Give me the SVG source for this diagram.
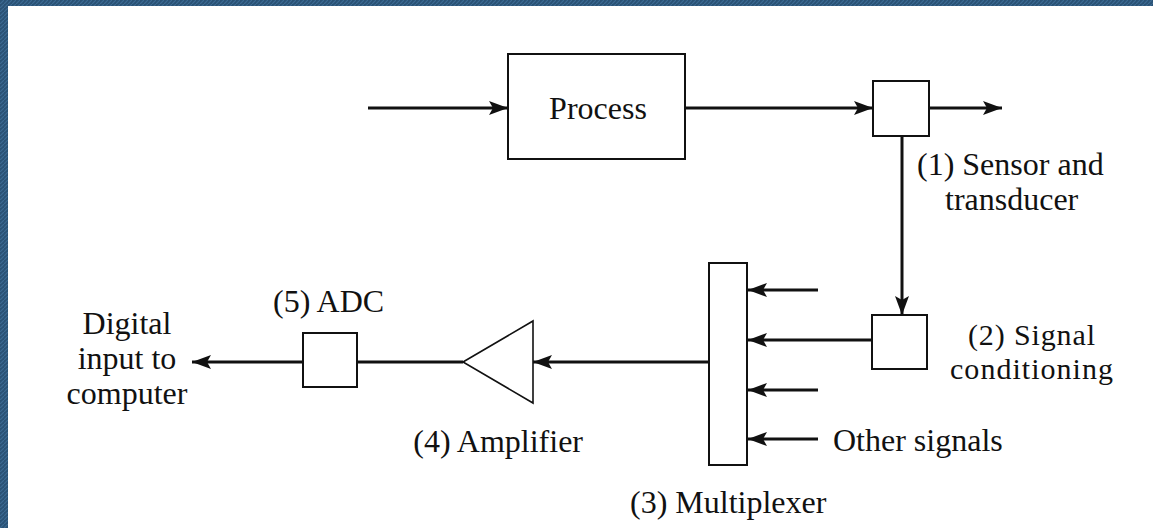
<svg xmlns="http://www.w3.org/2000/svg" width="1153" height="528" viewBox="0 0 1153 528">
<style>
.box{fill:#fff;stroke:#111;stroke-width:2}
.amp{fill:#fff;stroke:#111;stroke-width:1.6}
.wire{stroke:#111;stroke-width:3;fill:none}
.arr{stroke:#111;stroke-width:3;fill:none;marker-end:url(#ah)}
text{font-family:"Liberation Serif","Times New Roman",serif;font-size:32px;fill:#111}
.sm{font-size:30px}
</style>
<defs>
<marker id="ah" markerUnits="userSpaceOnUse" markerWidth="20" markerHeight="14" refX="19" refY="7" orient="auto">
<path d="M0,0 L19,7 L0,14 L4,7 z" fill="#111"/>
</marker>
<pattern id="hatch" patternUnits="userSpaceOnUse" width="4" height="4">
<rect width="4" height="4" fill="#2a5275"/>
<path d="M0,4 L4,0" stroke="#3b6a92" stroke-width="1.2"/>
</pattern>
</defs>
<rect width="1153" height="528" fill="#fff"/>
<rect x="0" y="0" width="1153" height="6" fill="url(#hatch)"/>
<rect x="0" y="0" width="8" height="528" fill="url(#hatch)"/>

<g id="connectors">
<line class="arr" x1="368" y1="108" x2="508" y2="108"/>
<line class="arr" x1="685" y1="108" x2="873" y2="108"/>
<line class="arr" x1="929" y1="108" x2="1002" y2="108"/>
<line class="arr" x1="902" y1="136" x2="902" y2="315"/>
<line class="arr" x1="872" y1="340" x2="748" y2="340"/>
<line class="arr" x1="818" y1="290" x2="748" y2="290"/>
<line class="arr" x1="818" y1="390" x2="748" y2="390"/>
<line class="arr" x1="818" y1="439" x2="748" y2="439"/>
<line class="arr" x1="709" y1="362" x2="533" y2="362"/>
<line class="wire" x1="463" y1="362" x2="357" y2="362"/>
<line class="arr" x1="303" y1="362" x2="192" y2="362"/>
</g>

<g id="process">
<rect class="box" x="508" y="54" width="177" height="105"/>
<text x="598" y="119" text-anchor="middle">Process</text>
</g>
<g id="sensor">
<rect class="box" x="873" y="81" width="56" height="55"/>
<text x="917" y="175">(1) Sensor and</text>
<text x="945" y="210">transducer</text>
</g>
<g id="signal-conditioning">
<rect class="box" x="872" y="315" width="55" height="54"/>
<text class="sm" x="968" y="345" textLength="127">(2) Signal</text>
<text class="sm" x="950" y="379" textLength="163">conditioning</text>
</g>
<g id="multiplexer">
<rect class="box" x="709" y="263" width="38" height="202"/>
<text x="630" y="513">(3) Multiplexer</text>
</g>
<g id="other-signals">
<text x="833" y="451">Other signals</text>
</g>
<g id="amplifier">
<polygon class="amp" points="463,362 533,321 533,403"/>
<text x="583" y="452" text-anchor="end">(4) Amplifier</text>
</g>
<g id="adc">
<rect class="box" x="303" y="333" width="54" height="54"/>
<text x="273" y="312">(5) ADC</text>
</g>
<g id="digital-output">
<text x="127" y="334" text-anchor="middle">Digital</text>
<text x="127" y="369" text-anchor="middle">input to</text>
<text x="127" y="404" text-anchor="middle">computer</text>
</g>
</svg>
